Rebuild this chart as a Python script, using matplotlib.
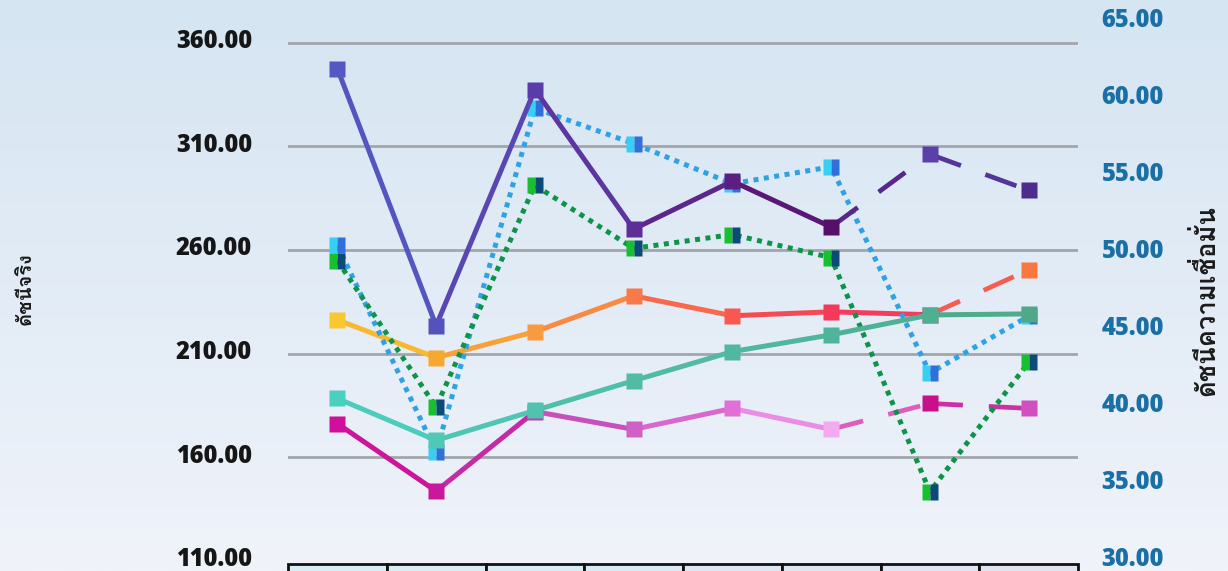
import matplotlib
matplotlib.use("Agg")
import matplotlib.pyplot as plt
import matplotlib.transforms as mtransforms
import numpy as np
from matplotlib import font_manager
from matplotlib.ft2font import FT2Font
from matplotlib.colors import to_rgb
from matplotlib.patches import Rectangle

# ---- data ----
periods = list(range(8))

# real index (left axis)
idx_purple = [347.5, 223.5, 337.4, 270.1, 293.2, 271.1, 306.2, 288.8]
idx_orange = [226.3, 208.1, 220.6, 237.9, 228.3, 230.2, 228.8, 250.4]
idx_teal = [188.4, 168.2, 182.6, 197.0, 211.0, 219.1, 228.7, 229.2]
idx_magenta = [176.3, 143.7, 182.1, 173.5, 183.6, 173.5, 186.0, 183.6]

# confidence index (right axis)
conf_blue = [50.5, 37.1, 59.4, 57.1, 54.5, 55.6, 42.2, 45.9]
conf_green = [49.5, 40.0, 54.4, 50.3, 51.2, 49.7, 34.5, 42.9]

left_ticks = [110, 160, 210, 260, 310, 360]
right_ticks = [30, 35, 40, 45, 50, 55, 60, 65]

# index from which each real-index series is drawn dashed
dash_from = {"purple": 5, "orange": 6, "teal": 99, "magenta": 5}

col_purple = ["#5558c4", "#5552bc", "#5a3ca8", "#5e2e98", "#5c1e82", "#56106a", "#5a40a8", "#4e2c8c"]
col_orange = ["#f8c830", "#f8a830", "#f89a40", "#f87a48", "#f85850", "#f43a58", "#f44060", "#f87840"]
col_teal = ["#48d0c0", "#50c8b8", "#50c2b0", "#50bca4", "#50b8a0", "#50b49a", "#50ae92", "#50a888"]
col_magenta = ["#d0109c", "#c8189c", "#c040b0", "#d060c8", "#e070d8", "#f4aaf0", "#c8108a", "#d050c0"]


def find_thai_font():
    for f in font_manager.fontManager.ttflist:
        try:
            if 0x0E14 in FT2Font(f.fname).get_charmap():
                return f.name
        except Exception:
            pass
    return None


thai = find_thai_font()
fam = [thai, "DejaVu Sans"] if thai else ["DejaVu Sans"]
plt.rcParams["font.family"] = ["Open Sans", "DejaVu Sans"]

fig = plt.figure(figsize=(12.28, 5.71), dpi=100)

# background gradient
bg = fig.add_axes([0, 0, 1, 1], zorder=-10)
top = np.array(to_rgb("#d5e5f2"))
bot = np.array(to_rgb("#f0f3fa"))
t = np.linspace(0, 1, 256)[:, None, None]
grad = top * (1 - t) + bot * t
grad = np.repeat(grad, 4, axis=1)
bg.imshow(grad, aspect="auto", extent=[0, 1, 0, 1])
bg.axis("off")

ax = fig.add_axes([288 / 1228, 10 / 571, 790 / 1228, 539 / 571])
ax.set_facecolor("none")
ax2 = ax.twinx()
ax2.set_facecolor("none")

ax.set_xlim(-0.5, 7.5)
ax.set_ylim(110, 370)
ax2.set_ylim(30, 65)

for v in left_ticks[1:]:
    ax.axhline(v, color="#a3a6aa", lw=2, zorder=0)


def mix(c1, c2):
    return tuple((np.array(to_rgb(c1)) + np.array(to_rgb(c2))) / 2)


def draw_series(a, ys, cols, start_dash, z):
    for i in range(len(ys) - 1):
        dashed = i >= start_dash
        a.plot(periods[i:i + 2], ys[i:i + 2], color=mix(cols[i], cols[i + 1]),
               lw=3.6 if not dashed else 3.4,
               linestyle=(0, (7, 5.5)) if dashed else "-",
               solid_capstyle="butt", dash_capstyle="butt", zorder=z)
    for i, y in enumerate(ys):
        a.plot(periods[i], y, marker="s", ms=11.5, color=cols[i], mec="none", zorder=z + 0.5)


def draw_dotted(a, ys, line_col, left_col, right_col, z):
    a.plot(periods, ys, color=line_col, lw=3.6, linestyle=(0, (1, 1.1)),
           dash_capstyle="butt", zorder=z)
    a.plot(periods, ys, linestyle="none", marker="s", ms=11.5, fillstyle="left",
           markerfacecolor=left_col, markerfacecoloralt=right_col, mec="none", zorder=z + 0.5)


draw_series(ax, idx_orange, col_orange, dash_from["orange"], 3)
draw_series(ax, idx_magenta, col_magenta, dash_from["magenta"], 3)
draw_dotted(ax2, conf_blue, "#2ea2e4", "#38d0f2", "#3070d8", 4)
draw_dotted(ax2, conf_green, "#0e9448", "#18c030", "#0c4a78", 4)
draw_series(ax2, list(np.interp(idx_teal, [110, 370], [30, 65])), col_teal, dash_from["teal"], 6)
draw_series(ax2, list(np.interp(idx_purple, [110, 370], [30, 65])), col_purple, dash_from["purple"], 6)

ax.set_xticks([])
ax.set_yticks(left_ticks)
ax.set_yticklabels([f"{v:.2f}" for v in left_ticks], fontsize=17, fontweight="heavy", color="#161616")
ax.tick_params(axis="y", length=0, pad=26)
ax2.set_yticks(right_ticks)
ax2.set_yticklabels([f"{v:.2f}" for v in right_ticks], fontsize=17, fontweight="heavy", color="#1a6fa6")
ax2.tick_params(axis="y", length=0, pad=17)
lift = mtransforms.ScaledTranslation(0, 1.2 / 100, fig.dpi_scale_trans)
for lab in ax.get_yticklabels() + ax2.get_yticklabels():
    lab.set_va("center")
    lab.set_transform(lab.get_transform() + lift)
for a in (ax, ax2):
    for s in a.spines.values():
        s.set_visible(False)

# x-axis table (cut off at the bottom of the picture)
cell_cols = ["#d8eef6", "#d9edf5", "#d9ecf5", "#dbe9f4", "#dde7f3", "#dee6f2", "#dfe5f2", "#e0e4f1"]
for i in periods:
    ax.add_patch(Rectangle((i - 0.5, -0.08), 1, 0.075, transform=ax.get_xaxis_transform(),
                           facecolor=cell_cols[i], edgecolor="#111111", lw=2, clip_on=False, zorder=1))

fig.text(25 / 1228, 1 - 289 / 571, "ดัชนีจริง", rotation=90, ha="center", va="center",
         fontsize=14.5, fontweight="bold", color="#1a1a1a", family=fam)
fig.text(1205 / 1228, 1 - 300 / 571, "ดัชนีความเชื่อมั่น", rotation=90, ha="center", va="center",
         fontsize=18.5, fontweight="bold", color="#1a1a1a", family=fam)

fig.savefig("out.png", dpi=100)
